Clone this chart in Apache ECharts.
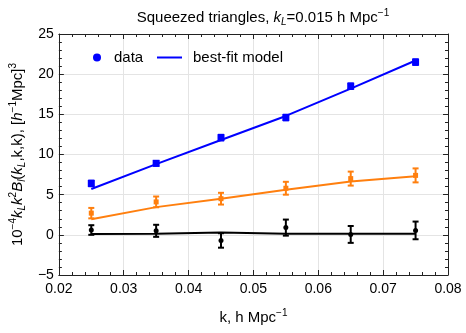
<!DOCTYPE html>
<html>
<head>
<meta charset="utf-8">
<script src="https://cdn.jsdelivr.net/npm/echarts@6/dist/echarts.min.js"></script>
<style>html,body{margin:0;padding:0;background:#fff}#c{width:466px;height:333px}</style>
</head>
<body>
<div id="c"></div>
<script>
const kValues = [0.025, 0.035, 0.045, 0.055, 0.065, 0.075];
const blueData = [6.4, 8.9, 12.1, 14.6, 18.5, 21.5];
const blueErr = [0.35, 0.3, 0.35, 0.35, 0.35, 0.35];
const blueModel = [5.7, 8.8, 11.8, 14.8, 18.2, 21.7];
const orangeData = [2.7, 4.1, 4.5, 5.8, 7.0, 7.4];
const orangeErr = [0.65, 0.67, 0.73, 0.8, 0.87, 0.87];
const orangeModel = [1.95, 3.45, 4.5, 5.6, 6.65, 7.3];
const blackData = [0.6, 0.5, -0.7, 0.9, 0.05, 0.55];
const blackErr = [0.6, 0.75, 0.9, 1.0, 1.05, 1.1];
const blackModel = [0.1, 0.15, 0.3, 0.15, 0.15, 0.12];
const xTicks = [0.02, 0.03, 0.04, 0.05, 0.06, 0.07, 0.08];
const yTicks = [-5, 0, 5, 10, 15, 20, 25];

const FONT = 'Liberation Sans';
const BLUE = '#0000ff', ORANGE = '#ff7f0e', BLACK = '#000000';
const AX = '#222222';

function rich(fs) {
  const base = {fontFamily: FONT, fontWeight: 'normal', color: '#000', lineHeight: fs + 4};
  return {
    n: Object.assign({}, base, {fontSize: fs, verticalAlign: 'middle'}),
    it: Object.assign({}, base, {fontSize: fs, fontStyle: 'italic', verticalAlign: 'middle'}),
    sup: Object.assign({}, base, {fontSize: Math.round(fs * 0.68), verticalAlign: 'top'}),
    sub: Object.assign({}, base, {fontSize: Math.round(fs * 0.68), fontStyle: 'italic', verticalAlign: 'bottom'})
  };
}

function pts(vals) { return kValues.map((k, i) => [k, vals[i]]); }
function errPts(vals, errs) { return kValues.map((k, i) => [k, vals[i], errs[i]]); }

function errBar(color) {
  return function (params, api) {
    const x = api.value(0), y = api.value(1), e = api.value(2);
    const lo = api.coord([x, y - e]), hi = api.coord([x, y + e]);
    const w = 3;
    const st = {stroke: color, lineWidth: 2};
    return {
      type: 'group',
      children: [
        {type: 'line', shape: {x1: lo[0], y1: lo[1], x2: hi[0], y2: hi[1]}, style: st},
        {type: 'line', shape: {x1: lo[0] - w, y1: lo[1], x2: lo[0] + w, y2: lo[1]}, style: st},
        {type: 'line', shape: {x1: hi[0] - w, y1: hi[1], x2: hi[0] + w, y2: hi[1]}, style: st}
      ]
    };
  };
}

const minus = v => String(+v.toFixed(4)).replace('-', '\u2212');

const xBase = {
  type: 'value', min: xTicks[0], max: xTicks[xTicks.length - 1], interval: 0.01,
  axisLine: {show: true, onZero: false, lineStyle: {color: AX, width: 1}},
  axisTick: {show: true, inside: true, length: 5, lineStyle: {color: AX}},
  minorTick: {show: true, splitNumber: 5, length: 3, lineStyle: {color: AX}},
  minorSplitLine: {show: false}
};
const yBase = {
  type: 'value', min: yTicks[0], max: yTicks[yTicks.length - 1], interval: 5,
  axisLine: {show: true, onZero: false, lineStyle: {color: AX, width: 1}},
  axisTick: {show: true, inside: true, length: 5, lineStyle: {color: AX}},
  minorTick: {show: true, splitNumber: 5, length: 3, lineStyle: {color: AX}},
  minorSplitLine: {show: false}
};

const chart = echarts.init(document.getElementById('c'), null, {renderer: 'canvas'});
chart.setOption({
  animation: false,
  backgroundColor: '#fff',
  title: {
    text: '{n|Squeezed triangles, }{it|k}{sub|L}{n|=0.015 h Mpc}{sup|\u22121}',
    left: 258, top: 3, textAlign: 'center',
    textStyle: {fontWeight: 'normal', rich: rich(15)}
  },
  grid: {left: 58, right: 18, top: 34, bottom: 58},
  legend: [
    {
      data: [{name: 'data', icon: 'circle'}],
      left: 88, top: 45, itemWidth: 8, itemHeight: 8, itemGap: 0,
      textStyle: {fontFamily: FONT, fontSize: 15, color: '#000', padding: [0, 0, 0, 8]}
    },
    {
      data: [{name: 'best-fit model', icon: 'rect'}],
      left: 152, top: 45, itemWidth: 25, itemHeight: 2,
      textStyle: {fontFamily: FONT, fontSize: 15, color: '#000', padding: [0, 0, 0, 6]}
    }
  ],
  xAxis: [
    Object.assign({}, xBase, {
      position: 'bottom',
      name: '{n|k, h Mpc}{sup|\u22121}', nameLocation: 'middle', nameGap: 33,
      nameTextStyle: {rich: rich(15)},
      axisLabel: {fontFamily: FONT, fontSize: 14, color: '#000', margin: 7, formatter: minus},
      splitLine: {show: true, lineStyle: {color: '#e4e4e4', width: 1}}
    }),
    Object.assign({}, xBase, {
      position: 'top', axisLabel: {show: false}, splitLine: {show: false}
    })
  ],
  yAxis: [
    Object.assign({}, yBase, {
      position: 'left',
      name: '{n|10}{sup|\u22124}{it|k}{sub|L}{it|k}{sup|2}{it|B}{sub|l}{n|(}{it|k}{sub|L}{n|,k,k), [}{it|h}{sup|\u22121}{n|Mpc]}{sup|3}',
      nameLocation: 'middle', nameGap: 31, nameRotate: 90,
      nameTextStyle: {rich: rich(15)},
      axisLabel: {fontFamily: FONT, fontSize: 14, color: '#000', margin: 5, formatter: minus},
      splitLine: {show: true, lineStyle: {color: '#e4e4e4', width: 1}}
    }),
    Object.assign({}, yBase, {
      position: 'right', axisLabel: {show: false}, splitLine: {show: false}
    })
  ],
  series: [
    {name: 'data', type: 'scatter', data: [], itemStyle: {color: BLUE, opacity: 1}},
    {name: 'best-fit model', type: 'line', data: [], itemStyle: {color: BLUE}, lineStyle: {color: BLUE}},
    {type: 'line', data: pts(blueModel), showSymbol: false, lineStyle: {color: BLUE, width: 2}, z: 3},
    {type: 'line', data: pts(orangeModel), showSymbol: false, lineStyle: {color: ORANGE, width: 2}, z: 3},
    {type: 'line', data: pts(blackModel), showSymbol: false, lineStyle: {color: BLACK, width: 2}, z: 3},
    {type: 'custom', data: errPts(blueData, blueErr), renderItem: errBar(BLUE), z: 4},
    {type: 'custom', data: errPts(orangeData, orangeErr), renderItem: errBar(ORANGE), z: 4},
    {type: 'custom', data: errPts(blackData, blackErr), renderItem: errBar(BLACK), z: 4},
    {type: 'scatter', data: pts(blueData), symbol: 'rect', symbolSize: 7, itemStyle: {color: BLUE, opacity: 1}, z: 5},
    {type: 'scatter', data: pts(orangeData), symbol: 'rect', symbolSize: 5, itemStyle: {color: ORANGE, opacity: 1}, z: 5},
    {type: 'scatter', data: pts(blackData), symbol: 'circle', symbolSize: 5, itemStyle: {color: BLACK, opacity: 1}, z: 5}
  ]
});
</script>
</body>
</html>
